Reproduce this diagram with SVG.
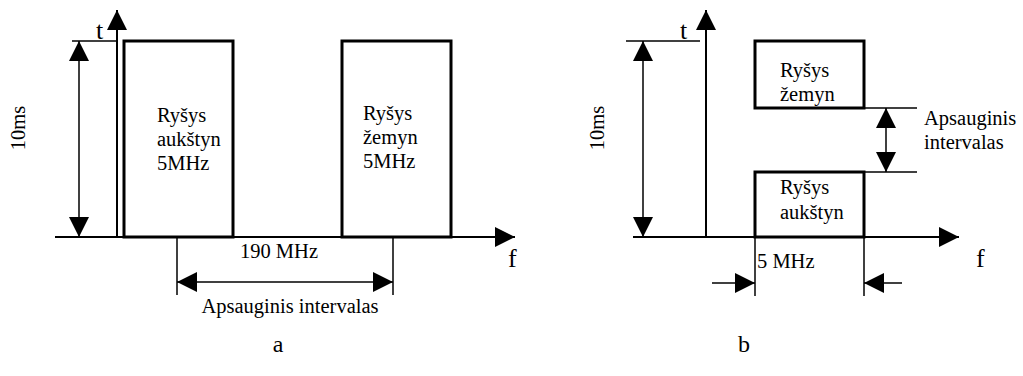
<svg xmlns="http://www.w3.org/2000/svg" width="1023" height="376" viewBox="0 0 1023 376">
<defs>
<style>
text{font-family:"Liberation Serif","Times New Roman",serif;fill:#000}
.lbl{font-size:20.5px}
.big{font-size:26px}
.box{fill:none;stroke:#000;stroke-width:3}
.ax{stroke:#000;stroke-width:2;fill:none}
.dim{stroke:#000;stroke-width:1.5;fill:none}
</style>
<marker id="ah" markerUnits="userSpaceOnUse" markerWidth="22" markerHeight="22" refX="20" refY="10" orient="auto-start-reverse" viewBox="0 0 22 22">
<path d="M0,0 L20,10 L0,20 z" fill="#000"/>
</marker>
</defs>
<rect width="1023" height="376" fill="#fff"/>

<g id="panel-a">
<g id="a-axes">
<line class="ax" x1="117" y1="238" x2="117" y2="10" marker-end="url(#ah)" stroke-width="1.5"/>
<line class="ax" x1="55" y1="237" x2="515" y2="237" marker-end="url(#ah)" stroke-width="2.5"/>
<text class="big" x="96" y="39">t</text>
<text class="big" x="508" y="267">f</text>
</g>
<g id="a-up">
<rect class="box" x="124" y="41" width="109" height="196"/>
<text class="lbl" x="157" y="122">Ryšys</text>
<text class="lbl" x="157" y="146">aukštyn</text>
<text class="lbl" x="157" y="170">5MHz</text>
</g>
<g id="a-down">
<rect class="box" x="342" y="41" width="109" height="196"/>
<text class="lbl" x="363" y="120">Ryšys</text>
<text class="lbl" x="363" y="144">žemyn</text>
<text class="lbl" x="363" y="168">5MHz</text>
</g>
<g id="a-connectors">
<line class="dim" x1="72" y1="41" x2="118" y2="41"/>
<line class="dim" x1="79" y1="41" x2="79" y2="237" marker-start="url(#ah)" marker-end="url(#ah)"/>
<line class="dim" x1="177" y1="238" x2="177" y2="295"/>
<line class="dim" x1="393" y1="238" x2="393" y2="295"/>
<line class="dim" x1="177" y1="282" x2="393" y2="282" marker-start="url(#ah)" marker-end="url(#ah)"/>
</g>
<text class="lbl" transform="translate(25,128) rotate(-90)" text-anchor="middle">10ms</text>
<text class="lbl" x="279" y="258" text-anchor="middle">190 MHz</text>
<text class="lbl" x="290" y="313" text-anchor="middle">Apsauginis intervalas</text>
<text x="278" y="352" font-size="24" text-anchor="middle">a</text>
</g>

<g id="panel-b">
<g id="b-axes">
<line class="ax" x1="706" y1="238" x2="706" y2="10" marker-end="url(#ah)" stroke-width="1.5"/>
<line class="ax" x1="633" y1="237" x2="959" y2="237" marker-end="url(#ah)" stroke-width="2.5"/>
<text class="big" x="680" y="39">t</text>
<text class="big" x="976" y="267">f</text>
</g>
<g id="b-down">
<rect class="box" x="755" y="41" width="109" height="67"/>
<text class="lbl" x="780" y="77">Ryšys</text>
<text class="lbl" x="780" y="101">žemyn</text>
</g>
<g id="b-up">
<rect class="box" x="755" y="172" width="109" height="65"/>
<text class="lbl" x="780" y="194">Ryšys</text>
<text class="lbl" x="780" y="219">aukštyn</text>
</g>
<g id="b-connectors">
<line class="dim" x1="626" y1="41" x2="700" y2="41"/>
<line class="dim" x1="643" y1="41" x2="643" y2="237" marker-start="url(#ah)" marker-end="url(#ah)"/>
<line class="dim" x1="864" y1="108" x2="917" y2="108"/>
<line class="dim" x1="864" y1="172" x2="917" y2="172"/>
<line class="dim" x1="886" y1="108" x2="886" y2="172" marker-start="url(#ah)" marker-end="url(#ah)"/>
<line class="dim" x1="755" y1="238" x2="755" y2="296"/>
<line class="dim" x1="864" y1="238" x2="864" y2="296"/>
<line class="dim" x1="712" y1="283" x2="755" y2="283" marker-end="url(#ah)"/>
<line class="dim" x1="902" y1="283" x2="864" y2="283" marker-end="url(#ah)"/>
</g>
<text class="lbl" transform="translate(604,128) rotate(-90)" text-anchor="middle">10ms</text>
<text class="lbl" x="757" y="268">5 MHz</text>
<text class="lbl" x="924" y="125">Apsauginis</text>
<text class="lbl" x="924" y="149">intervalas</text>
<text x="744" y="352" font-size="24" text-anchor="middle">b</text>
</g>
</svg>
